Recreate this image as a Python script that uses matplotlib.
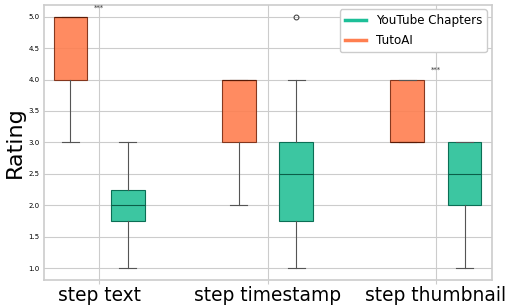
import numpy as np
import matplotlib.pyplot as plt
from matplotlib.lines import Line2D

categories = ["step text", "step timestamp", "step thumbnail"]

# box stats: (whislo, q1, median, q3, whishi)
tutoai = [(3, 4, 5, 5, 5), (2, 3, 4, 4, 4), (3, 3, 3, 4, 4)]
youtube = [(1, 1.75, 2, 2.25, 3), (1, 1.75, 2.5, 3, 4), (1, 2, 2.5, 3, 3)]
youtube_fliers = [[], [5], []]
tutoai_fliers = [[], [], []]

# significance marks (category index, rating)
stars = [(0, 5.14), (2, 4.16)]

teal = "#1dbf98"
coral = "#ff7f50"


def make_stats(rows, fliers):
    out = []
    for (lo, q1, med, q3, hi), fl in zip(rows, fliers):
        out.append(dict(whislo=lo, q1=q1, med=med, q3=q3, whishi=hi, fliers=fl))
    return out


fig, ax = plt.subplots(figsize=(5.12, 3.08), dpi=100)
x = np.arange(len(categories))
off = 0.17
w = 0.2

common = dict(widths=w, patch_artist=True, manage_ticks=False,
              whiskerprops=dict(color="#555555", lw=0.8),
              capprops=dict(color="#555555", lw=0.8),
              flierprops=dict(marker="o", markersize=3.5, markerfacecolor="none",
                              markeredgecolor="#333333", markeredgewidth=0.7))

ax.bxp(make_stats(tutoai, tutoai_fliers), positions=x - off,
       boxprops=dict(facecolor=coral, edgecolor="#7a2a10", lw=0.8, alpha=0.9),
       medianprops=dict(color="#5a1a05", lw=0.8), **common)
ax.bxp(make_stats(youtube, youtube_fliers), positions=x + off,
       boxprops=dict(facecolor="#3cc6a1", edgecolor="#0b6e55", lw=0.8),
       medianprops=dict(color="#0b5e48", lw=0.8), **common)

for i, y in stars:
    ax.text(x[i], y, "***", ha="center", va="center", fontsize=5, color="#333333")

ax.set_xlim(-0.33, 2.33)
ax.set_ylim(0.81, 5.19)
ax.set_xticks(x)
ax.set_xticklabels(categories, fontsize=13.4)
ax.set_yticks(np.arange(1.0, 5.01, 0.5))
ax.tick_params(axis="y", labelsize=5, length=0, pad=3)
ax.tick_params(axis="x", length=3, color="#cccccc", pad=1)
ax.set_ylabel("Rating", fontsize=16, labelpad=2)
ax.grid(True, color="#cccccc", lw=0.8)
ax.set_axisbelow(True)
for s in ax.spines.values():
    s.set_color("#cccccc")
    s.set_linewidth(1.2)

handles = [Line2D([0], [0], color=teal, lw=2.5), Line2D([0], [0], color=coral, lw=2.5)]
ax.legend(handles, ["YouTube Chapters", "TutoAI"], loc="upper right", fontsize=8.6,
          handlelength=1.8, labelspacing=0.6, borderaxespad=0.4,
          framealpha=1, edgecolor="#cccccc")

fig.subplots_adjust(left=0.085, right=0.96, top=0.985, bottom=0.09)
fig.savefig("out.png", dpi=100)
